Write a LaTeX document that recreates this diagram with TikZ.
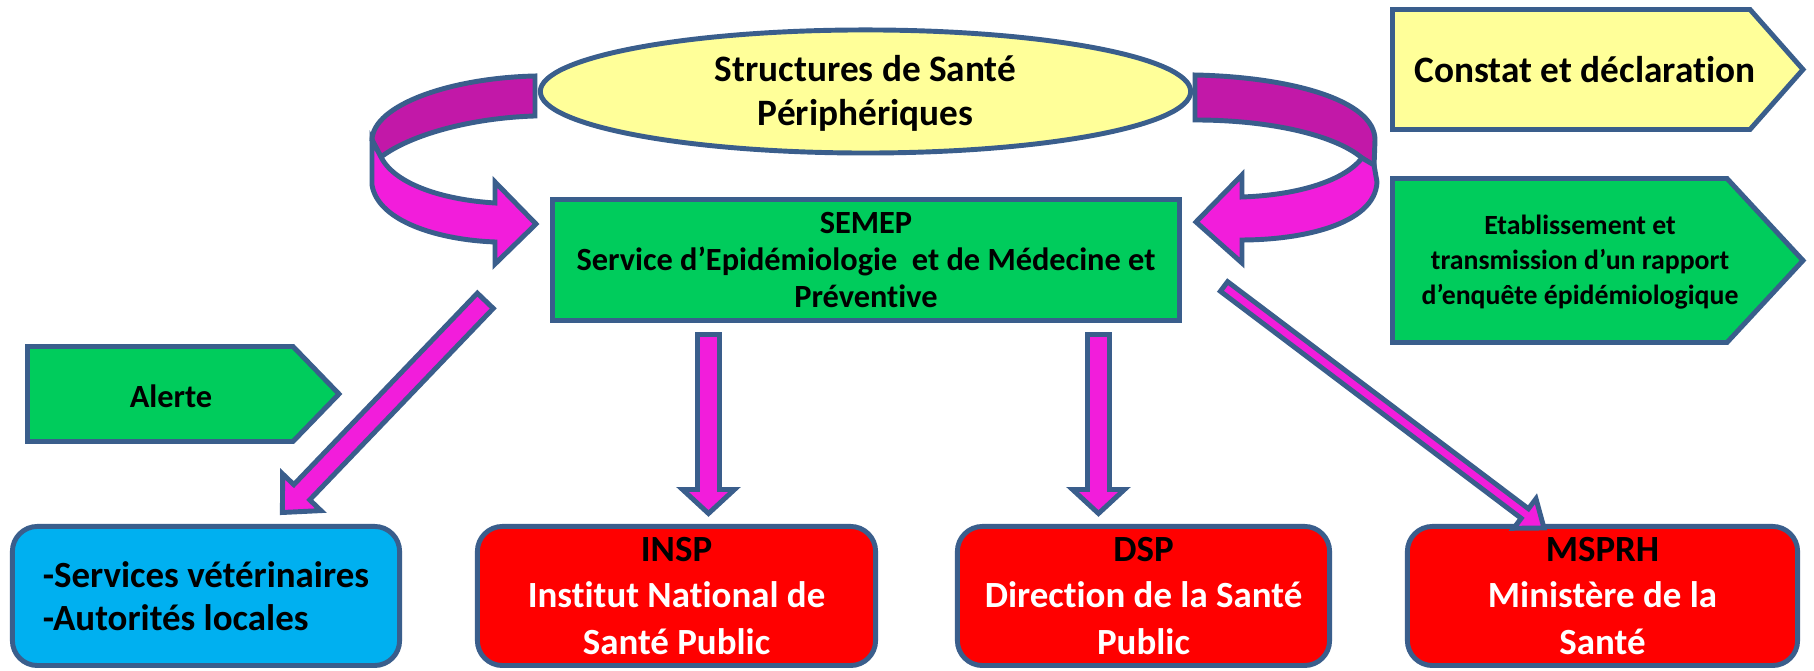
\documentclass[tikz,border=0pt]{standalone}
\usepackage{fontspec}
\setmainfont{Carlito}[Ligatures=NoCommon]
\usetikzlibrary{calc,shapes.geometric}
\definecolor{bord}{HTML}{3A5E8C}
\definecolor{lyel}{HTML}{FFFF99}
\definecolor{grn}{HTML}{00CC5C}
\definecolor{cyanb}{HTML}{00B0F0}
\definecolor{redb}{HTML}{FF0000}
\definecolor{mag}{HTML}{F21DDB}
\definecolor{darkmag}{HTML}{C218A8}
\tikzset{
  outl/.style={draw=bord, line width=1.4pt, line join=miter},
  barrow/.style={outl, fill=mag},
  ribbonback/.style={outl, fill=darkmag},
  ribbonfront/.style={outl, fill=mag},
  botbox/.style={outl, rounded corners=0.25cm, minimum height=1.39cm, inner sep=0pt, align=center},
  redbox/.style={botbox, fill=redb, text=white, font=\fontsize{10.5}{13.2}\selectfont\bfseries},
  bluebox/.style={botbox, fill=cyanb, align=left, font=\fontsize{10.5}{12.4}\selectfont\bfseries},
  bigtxt/.style={inner sep=0pt, align=center, font=\fontsize{10.6}{12.4}\selectfont\bfseries},
  semeptxt/.style={inner sep=0pt, align=center, font=\fontsize{9.2}{10.4}\selectfont\bfseries},
  smalltxt/.style={inner sep=0pt, align=center, font=\fontsize{7.9}{10}\selectfont\bfseries},
  alerttxt/.style={inner sep=0pt, font=\fontsize{9.2}{10}\selectfont\bfseries},
}
\newcommand\blockarr[5]{%
  \path ($(#2)!#5!(#1)$) coordinate (bhb);
  \draw[barrow] ($(#1)!#3!90:(#2)$) -- ($(bhb)!#3!90:(#2)$) -- ($(bhb)!#4!90:(#2)$) -- (#2)
     -- ($(bhb)!#4!-90:(#2)$) -- ($(bhb)!#3!-90:(#2)$) -- ($(#1)!#3!-90:(#2)$) -- cycle;
}
\begin{document}
\begin{tikzpicture}[x=0.01cm, y=-0.01cm]
\useasboundingbox[fill=white] (0,0) rectangle (1814,671);

% curved arrows: back parts
\draw[ribbonback] (535,76) .. controls (450,78) and (373,105) .. (372,140) -- (381,157)
   .. controls (410,135) and (470,118) .. (535,116) -- cycle;
\draw[ribbonback] (1195,75) .. controls (1290,77) and (1375,100) .. (1375,140) -- (1374,167) -- (1362,158)
   .. controls (1335,135) and (1270,120) .. (1195,120) -- cycle;

% ellipse
\node[ellipse, outl, fill=lyel, minimum width=6.5cm, minimum height=1.23cm, inner sep=0pt] (ssp) at (865.5,91.5) {};
\node[bigtxt] (ssptxt) at (865.5,93.5) {Structures de Santé\\Périphériques};

% curved arrows: front parts
\draw[ribbonfront] (372,140) -- (372,185) .. controls (378,222) and (440,240) .. (495,242) -- (495,264)
   -- (536,224) -- (495,182) -- (495,203) .. controls (445,200) and (395,185) .. (381,157) -- cycle;
\draw[ribbonfront] (1374,165) -- (1377,182) .. controls (1375,225) and (1300,240) .. (1242,240) -- (1242,263)
   -- (1196,222) -- (1242,175) -- (1242,197) .. controls (1300,195) and (1345,180) .. (1362,158) -- cycle;

% SEMEP
\node[outl, fill=grn, minimum width=6.27cm, minimum height=1.21cm, inner sep=0pt, semeptxt] (semep) at (866,260)
  {SEMEP\\Service d’Epidémiologie~ et de Médecine et\\Préventive};

% pentagon labels
\draw[outl, fill=lyel] (1392.5,9.5) -- (1750,9.5) -- (1803,69.5) -- (1750,129.5) -- (1392.5,129.5) -- cycle;
\node[bigtxt] (constat) at (1585,70) {Constat et déclaration};
\draw[outl, fill=grn] (1392.5,178.5) -- (1727,178.5) -- (1803,260.5) -- (1727,342.5) -- (1392.5,342.5) -- cycle;
\node[smalltxt] (etab) at (1580,262) {Etablissement et\\transmission d’un rapport\\d’enquête épidémiologique};
\draw[outl, fill=grn] (27.5,346.5) -- (293,346.5) -- (339,394) -- (293,441.5) -- (27.5,441.5) -- cycle;
\node[alerttxt] (alerte) at (171,396) {Alerte};

% bottom boxes
\node[bluebox, minimum width=3.87cm] (vet) at (206,596) {-Services vétérinaires\\-Autorités locales};
\node[redbox, minimum width=3.98cm] (insp) at (676.5,596) {{\color{black}INSP}\\Institut National de\\Santé Public};
\node[redbox, minimum width=3.72cm] (dsp) at (1143.5,596) {{\color{black}DSP}\\Direction de la Santé\\Public};
\node[redbox, minimum width=3.90cm] (msprh) at (1602.5,596) {{\color{black}MSPRH}\\Ministère de la\\Santé};

% straight block arrows
\coordinate (a1s) at (485.3,300.8);
\coordinate (a1e) at (282.4,512.5);
\coordinate (a2s) at (708.5,334.5);
\coordinate (a2e) at (708.5,513.5);
\coordinate (a3s) at (1098.5,334.5);
\coordinate (a3e) at (1098.5,513.5);
\coordinate (a4s) at (1224,286.5);
\coordinate (a4e) at (1544,528);
\blockarr{a1s}{a1e}{0.11cm}{0.265cm}{0.28cm}
\blockarr{a2s}{a2e}{0.11cm}{0.26cm}{0.24cm}
\blockarr{a3s}{a3e}{0.11cm}{0.26cm}{0.24cm}
\blockarr{a4s}{a4e}{0.06cm}{0.185cm}{0.24cm}
\end{tikzpicture}
\end{document}
